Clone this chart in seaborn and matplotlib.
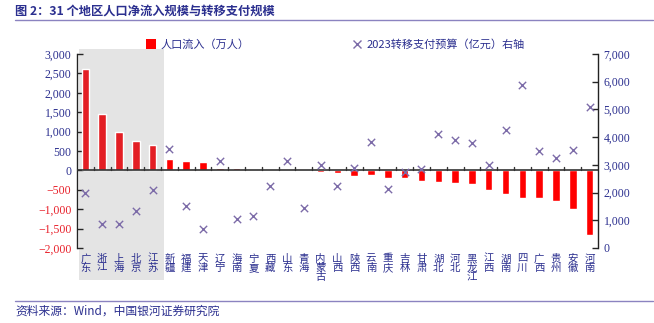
import matplotlib
matplotlib.use("Agg")
import matplotlib.pyplot as plt
from matplotlib.lines import Line2D
from matplotlib.patches import Patch, Rectangle
import seaborn as sns
import pandas as pd
import numpy as np

# ---- data ----
regions = ["广东", "浙江", "上海", "北京", "江苏", "新疆", "福建", "天津", "辽宁", "海南",
           "宁夏", "西藏", "山东", "青海", "内蒙古", "山西", "陕西", "云南", "重庆", "吉林",
           "甘肃", "湖北", "河北", "黑龙江", "江西", "湖南", "四川", "广西", "贵州", "安徽", "河南"]
inflow = [2620, 1460, 980, 770, 650, 285, 235, 205, 70, 50,
          30, 0, 0, 0, -30, -70, -135, -130, -200, -195,
          -285, -295, -335, -360, -510, -605, -700, -700, -780, -990, -1655]
transfer = [2000, 850, 875, 1350, 2075, 3570, 1530, 670, 3130, 1030,
            1140, 2245, 3155, 1430, 2985, 2245, 2876, 3820, 2125, 2755,
            2840, 4100, 3895, 3800, 3010, 4250, 5885, 3495, 3240, 3530, 5075]
left_ticks = [-2000, -1500, -1000, -500, 0, 500, 1000, 1500, 2000, 2500, 3000]
right_ticks = [0, 1000, 2000, 3000, 4000, 5000, 6000, 7000]
n_highlight = 5

NAVY = "#2B2F8F"
RED_TXT = "#E8202A"
CJK = ["Noto Sans CJK SC", "DejaVu Sans"]
NUM = ["Liberation Serif", "DejaVu Serif"]

sns.set_theme(style="white")
plt.rcParams["font.family"] = CJK
plt.rcParams["axes.unicode_minus"] = False

df = pd.DataFrame({
    "region": regions,
    "inflow": inflow,
    "transfer": transfer,
    "grp": ["core" if i < n_highlight else "rest" for i in range(len(regions))],
})

fig = plt.figure(figsize=(6.54, 3.23), dpi=100)
ax = fig.add_axes([0.1177, 0.2322, 0.7966, 0.6006])
ax.set_facecolor("none")

sns.barplot(data=df, x="region", y="inflow", hue="grp",
            palette={"core": "#E31E24", "rest": "#FF0000"},
            dodge=False, width=0.45, legend=False, ax=ax, saturation=1)
ax.set_ylim(-2000, 3000)

ax2 = ax.twinx()
sns.scatterplot(data=df, x="region", y="transfer", marker="x", color="#7C6BA8",
                s=28, linewidth=1.0, ax=ax2, legend=False)
ax2.set_ylim(0, 7000)
ax.set_xlim(-0.5, len(regions) - 0.5)

# grey band behind the first five regions
band = Rectangle((0.1202, 0.133), 0.1300, 0.715, transform=fig.transFigure,
                 facecolor="#E4E4E4", edgecolor="none", zorder=-10)
fig.patches.append(band)

for a in (ax, ax2):
    for s in ("top", "bottom"):
        a.spines[s].set_visible(False)
    a.set_xlabel("")
    a.set_ylabel("")
ax.spines["left"].set_color("#222222")
ax.spines["right"].set_visible(False)
ax2.spines["left"].set_visible(False)
ax2.spines["right"].set_color("#222222")
for a in (ax, ax2):
    for s in ("left", "right"):
        a.spines[s].set_linewidth(1.0)

# zero line acting as the category axis
ax.axhline(0, color="#333333", linewidth=1.2, zorder=3)
for b in np.arange(0.5, len(regions) - 1, 1.0):
    ax.plot([b, b], [0, 100], color="#333333", linewidth=1.0, zorder=3)

ax.set_yticks(left_ticks)
ax.set_yticklabels([f"{v:,}" if v >= 0 else f"−{abs(v):,}" for v in left_ticks],
                   fontfamily=NUM, fontsize=8.5)
for lbl, v in zip(ax.get_yticklabels(), left_ticks):
    lbl.set_color(NAVY if v >= 0 else RED_TXT)
ax.tick_params(axis="y", direction="in", length=4, width=1.0, pad=4, left=True)

ax2.set_yticks(right_ticks)
ax2.set_yticklabels([f"{v:,}" for v in right_ticks], fontfamily=NUM, fontsize=8.5, color=NAVY)
ax2.tick_params(axis="y", direction="in", length=4, width=1.0, pad=4, right=True)

ax.set_xticks(range(len(regions)))
ax.set_xticklabels(["\n".join(r) for r in regions], fontsize=7.5, color=NAVY,
                   linespacing=0.9, va="top")
ax.tick_params(axis="x", length=0, pad=4, bottom=True, labelbottom=True)

# legend
h1 = Patch(facecolor="#FF0000", edgecolor="none")
h2 = Line2D([], [], marker="x", linestyle="none", color="#7C6BA8", markersize=5.5, markeredgewidth=1.0)
leg = fig.legend([h1, h2], ["人口流入（万人）", "2023转移支付预算（亿元）右轴"],
                 loc="center left", bbox_to_anchor=(0.215, 0.862), ncol=2, frameon=False,
                 fontsize=8, handlelength=0.9, handletextpad=0.35, columnspacing=9.3,
                 borderpad=0, handleheight=0.9)
for t in leg.get_texts():
    t.set_color(NAVY)

# title and source with rules
fig.text(0.023, 0.966, "图 2：31 个地区人口净流入规模与转移支付规模", fontsize=8.8,
         fontweight="bold", color=NAVY, va="center", ha="left")
fig.add_artist(Line2D([0.023, 0.998], [0.9396, 0.9396], color="#8B83C0", linewidth=1.0))
fig.add_artist(Line2D([0.023, 0.998], [0.0672, 0.0672], color="#8B83C0", linewidth=1.0))
fig.text(0.023, 0.036, "资料来源：Wind，中国银河证券研究院", fontsize=8.5,
         color=NAVY, va="center", ha="left", style="italic")

fig.savefig("out.png", dpi=100)
